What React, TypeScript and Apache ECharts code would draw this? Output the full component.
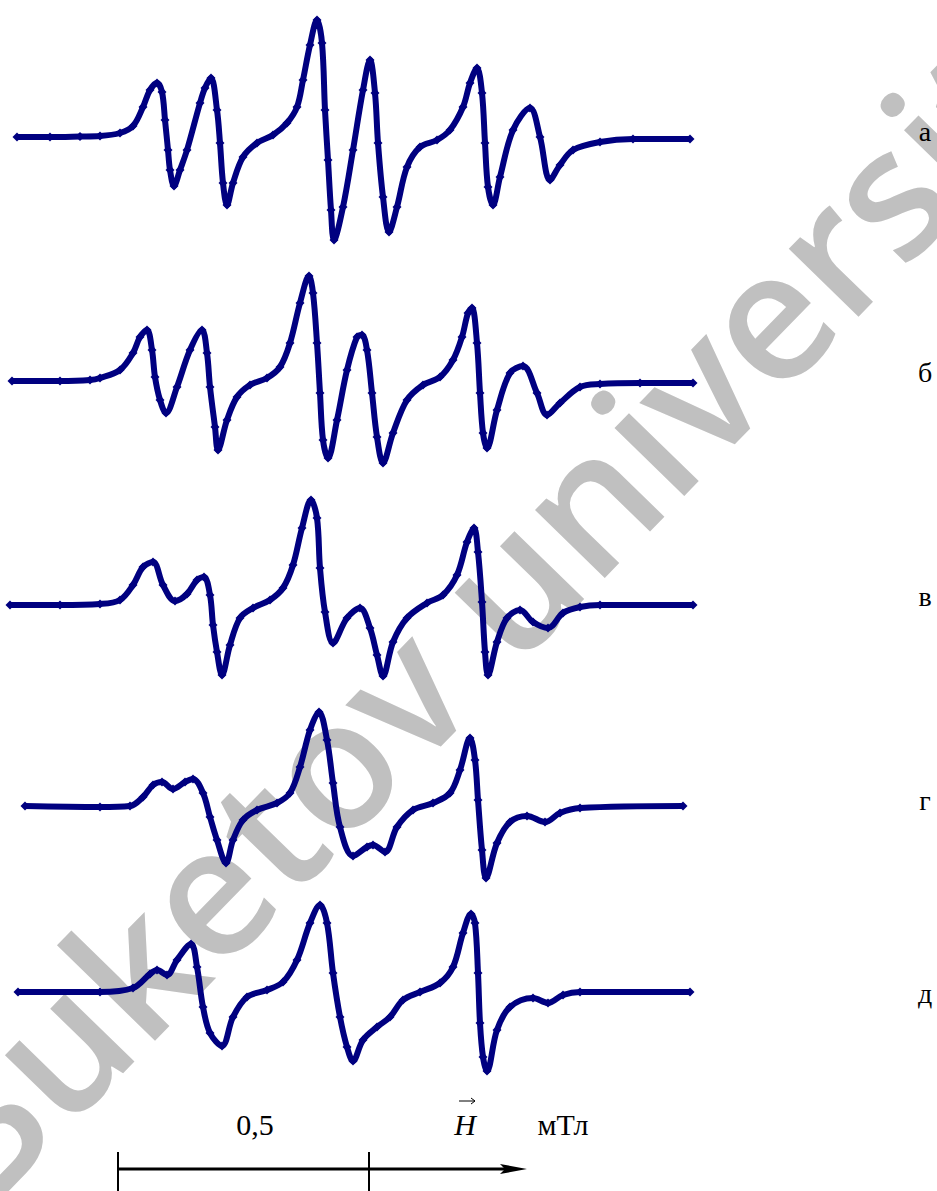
import React, { useEffect, useRef } from "react";
import * as echarts from "echarts";

// Field (μT, arbitrary origin) vs. EPR signal (arbitrary units)
const spectrumA: number[][] = [
  [34, 1], [100, 1], [160, 1.5], [200, 2], [240, 5], [266, 12], [286, 31], [300, 48], [314, 55],
  [324, 46], [330, 18], [336, -12], [340, -32], [348, -48], [360, -32], [374, -12], [400, 35],
  [410, 50], [422, 60], [434, 28], [440, -5], [446, -45], [454, -67], [466, -45], [486, -19],
  [514, -5], [546, 3], [574, 15], [594, 31], [606, 58], [620, 93], [634, 118], [644, 95],
  [650, 28], [656, -22], [662, -72], [668, -102], [686, -69], [706, -12], [726, 48], [740, 78],
  [750, 45], [756, -5], [766, -59], [778, -94], [794, -69], [814, -29], [840, -9], [874, -2],
  [900, 8], [926, 31], [940, 55], [954, 70], [964, 45], [970, -5], [976, -49], [986, -67],
  [1000, -39], [1026, 8], [1060, 30], [1080, 1], [1100, -42], [1120, -27], [1146, -12],
  [1200, -4], [1266, -1], [1380, -1],
];
const spectrumB: number[][] = [
  [24, 1], [120, 1], [180, 2], [200, 4], [240, 12], [266, 29], [280, 45], [294, 52], [304, 32],
  [310, 5], [320, -18], [332, -31], [354, -5], [380, 32], [404, 52], [414, 29], [420, -5],
  [430, -45], [436, -68], [454, -38], [474, -15], [500, -3], [534, 4], [560, 15], [580, 39],
  [600, 79], [618, 106], [626, 89], [634, 39], [640, -11], [646, -58], [656, -76], [674, -38],
  [694, 12], [714, 45], [724, 47], [734, 32], [744, -11], [754, -55], [766, -81], [786, -51],
  [814, -18], [846, -3], [880, 5], [906, 22], [924, 45], [936, 69], [944, 74], [954, 39],
  [960, -11], [966, -51], [974, -66], [994, -28], [1020, 9], [1046, 16], [1074, -11],
  [1094, -33], [1120, -21], [1160, -5], [1200, -2], [1280, -1], [1386, -1],
];
const spectrumV: number[][] = [
  [20, 0], [120, 0], [200, 1], [240, 5], [266, 20], [286, 38], [306, 43], [326, 20], [350, 4],
  [374, 11], [394, 25], [408, 28], [420, 10], [426, -20], [434, -47], [444, -70], [460, -40],
  [480, -13], [506, -3], [540, 5], [566, 17], [586, 40], [604, 77], [622, 105], [634, 87],
  [640, 37], [650, -7], [666, -38], [694, -13], [720, -3], [740, -23], [754, -50], [766, -71],
  [786, -37], [814, -13], [854, 2], [886, 10], [914, 30], [934, 63], [948, 77], [956, 53],
  [964, 3], [970, -47], [976, -70], [994, -37], [1014, -13], [1040, -5], [1066, -17],
  [1096, -23], [1126, -8], [1160, -2], [1200, 0], [1386, 0],
];
const spectrumG: number[][] = [
  [50, 0], [200, -1], [260, 0], [286, 9], [306, 21], [324, 24], [346, 17], [370, 24], [386, 27],
  [406, 13], [420, -11], [434, -34], [452, -57], [466, -34], [486, -14], [514, -4], [554, 3],
  [580, 13], [600, 39], [620, 76], [638, 94], [654, 66], [666, 23], [680, -21], [706, -50],
  [734, -41], [746, -39], [770, -46], [794, -21], [826, -4], [866, 3], [900, 13], [920, 36],
  [940, 68], [950, 46], [956, 6], [964, -44], [972, -72], [994, -37], [1020, -16], [1054, -10],
  [1090, -16], [1120, -7], [1160, -2], [1366, 0],
];
const spectrumD: number[][] = [
  [36, 0], [200, 0], [266, 4], [300, 18], [314, 22], [334, 17], [354, 32], [382, 48], [394, 25],
  [406, -15], [420, -41], [444, -54], [466, -25], [494, -5], [534, 2], [566, 10], [594, 32],
  [620, 69], [640, 87], [654, 69], [666, 19], [680, -25], [694, -55], [706, -69], [726, -48],
  [754, -35], [780, -25], [806, -8], [840, 0], [880, 9], [906, 25], [926, 59], [942, 78],
  [950, 69], [956, 19], [960, -31], [966, -65], [974, -79], [994, -38], [1020, -15],
  [1066, -6], [1096, -11], [1126, -3], [1160, 0], [1380, 0],
];

const curveLabels = ["а", "б", "в", "г", "д"];
const scaleLabel = "0,5";
const unitLabel = "мТл";
const fieldLabel = "H";
const watermark = "Buketov university";

const spectra = [spectrumA, spectrumB, spectrumV, spectrumG, spectrumD];
const baselines = [138, 382, 605, 806, 992];
const labelY = [131, 372, 596, 800, 993];

const NAVY = "#000080";
const SERIF = "'Liberation Serif', 'Times New Roman', serif";

export default function App() {
  const ref = useRef<HTMLDivElement>(null);
  useEffect(() => {
    if (!ref.current) return;
    const chart = echarts.init(ref.current, undefined, { renderer: "svg" });
    const half = 130;
    const grids = baselines.map((b) => ({ left: 0, width: 937, top: b - half, height: half * 2 }));
    const xAxes = baselines.map((_, i) => ({ type: "value", gridIndex: i, min: 0, max: 1874, show: false }));
    const yAxes = baselines.map((_, i) => ({ type: "value", gridIndex: i, min: -half, max: half, show: false }));
    const series = spectra.map((d, i) => ({
      type: "line",
      xAxisIndex: i,
      yAxisIndex: i,
      data: d,
      smooth: 0.35,
      symbol: "diamond",
      symbolSize: 9,
      showAllSymbol: true,
      clip: false,
      z: 5,
      lineStyle: { color: NAVY, width: 6 },
      itemStyle: { color: NAVY },
    }));
    const graphic: any[] = [
      {
        type: "text",
        x: 499,
        y: 587,
        rotation: 0.8,
        z: -10,
        silent: true,
        style: {
          text: watermark,
          fill: "#c0c0c0",
          font: "600 180px 'Open Sans', 'Noto Sans', sans-serif",
          textAlign: "center",
          textVerticalAlign: "middle",
        },
      },
      ...curveLabels.map((t, i) => ({
        type: "text",
        x: 925,
        y: labelY[i],
        z: 10,
        style: { text: t, fill: "#000", font: `28px ${SERIF}`, textAlign: "center", textVerticalAlign: "middle" },
      })),
      {
        type: "text", x: 255, y: 1124, z: 10,
        style: { text: scaleLabel, fill: "#000", font: `30px ${SERIF}`, textAlign: "center", textVerticalAlign: "middle" },
      },
      {
        type: "text", x: 465, y: 1124, z: 10,
        style: { text: fieldLabel, fill: "#000", font: `italic 30px ${SERIF}`, textAlign: "center", textVerticalAlign: "middle" },
      },
      { type: "line", z: 10, shape: { x1: 459, y1: 1101, x2: 475, y2: 1101 }, style: { stroke: "#000", lineWidth: 1 } },
      { type: "polyline", z: 10, shape: { points: [[471, 1098], [475, 1101], [471, 1104]] }, style: { stroke: "#000", lineWidth: 1, fill: null } },
      {
        type: "text", x: 563, y: 1124, z: 10,
        style: { text: unitLabel, fill: "#000", font: `30px ${SERIF}`, textAlign: "center", textVerticalAlign: "middle" },
      },
      { type: "line", z: 10, shape: { x1: 118, y1: 1169, x2: 510, y2: 1169 }, style: { stroke: "#000", lineWidth: 3 } },
      { type: "line", z: 10, shape: { x1: 118, y1: 1152, x2: 118, y2: 1191 }, style: { stroke: "#000", lineWidth: 2 } },
      { type: "line", z: 10, shape: { x1: 369, y1: 1152, x2: 369, y2: 1191 }, style: { stroke: "#000", lineWidth: 2 } },
      {
        type: "polygon", z: 10,
        shape: { points: [[500, 1164], [527, 1169], [500, 1174], [505, 1169]] },
        style: { fill: "#000" },
      },
    ];
    chart.setOption({
      animation: false,
      backgroundColor: "#fff",
      grid: grids,
      xAxis: xAxes,
      yAxis: yAxes,
      series,
      graphic,
    } as any);
    return () => chart.dispose();
  }, []);
  return <div ref={ref} style={{ position: "fixed", left: 0, top: 0, width: 937, height: 1191 }} />;
}
